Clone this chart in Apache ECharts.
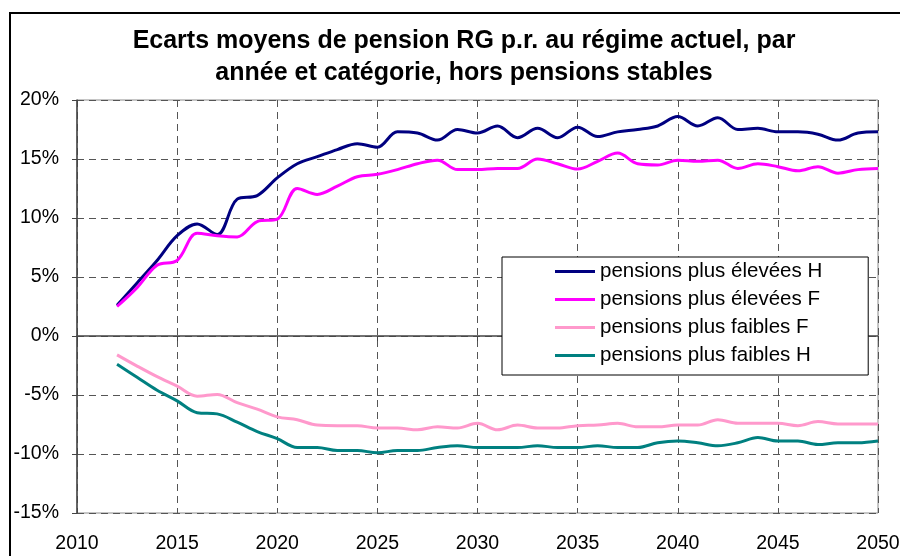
<!DOCTYPE html>
<html>
<head>
<meta charset="utf-8">
<title>Ecarts moyens de pension</title>
<script src="https://cdn.jsdelivr.net/npm/echarts@6/dist/echarts.min.js"></script>
<style>
  html, body { margin: 0; padding: 0; background: #fff; }
  #chart { width: 900px; height: 556px; }
</style>
</head>
<body>
<div id="chart"></div>
<script>
// années
const years = [2012, 2013, 2014, 2015, 2016, 2017, 2018, 2019, 2020, 2021,
  2022, 2023, 2024, 2025, 2026, 2027, 2028, 2029, 2030, 2031,
  2032, 2033, 2034, 2035, 2036, 2037, 2038, 2039, 2040, 2041,
  2042, 2043, 2044, 2045, 2046, 2047, 2048, 2049, 2050];

// écarts en %
const elevH = [2.6, 4.5, 6.4, 8.5, 9.5, 8.6, 11.6, 11.9, 13.4, 14.6,
  15.2, 15.8, 16.3, 16.0, 17.3, 17.2, 16.6, 17.5, 17.2, 17.8,
  16.8, 17.6, 16.8, 17.7, 16.9, 17.3, 17.5, 17.8, 18.6, 17.8,
  18.5, 17.5, 17.6, 17.3, 17.3, 17.1, 16.6, 17.2, 17.3];
const elevF = [2.5, 4.1, 6.0, 6.4, 8.7, 8.5, 8.4, 9.7, 9.9, 12.5,
  12.0, 12.7, 13.5, 13.7, 14.1, 14.6, 14.9, 14.1, 14.1, 14.2,
  14.2, 15.0, 14.6, 14.15, 14.8, 15.5, 14.6, 14.5, 14.9, 14.8,
  14.9, 14.2, 14.6, 14.35, 14.0, 14.35, 13.8, 14.1, 14.2];
const faibF = [-1.6, -2.55, -3.45, -4.25, -5.1, -4.95, -5.65, -6.2, -6.85, -7.1,
  -7.55, -7.6, -7.6, -7.8, -7.8, -7.95, -7.7, -7.8, -7.4, -7.95,
  -7.55, -7.8, -7.8, -7.6, -7.55, -7.4, -7.7, -7.7, -7.55, -7.55,
  -7.1, -7.4, -7.4, -7.4, -7.6, -7.25, -7.45, -7.45, -7.45];
const faibH = [-2.4, -3.5, -4.6, -5.5, -6.5, -6.6, -7.3, -8.1, -8.7, -9.45,
  -9.45, -9.7, -9.7, -9.9, -9.7, -9.7, -9.45, -9.3, -9.45, -9.45,
  -9.45, -9.3, -9.45, -9.45, -9.3, -9.45, -9.45, -9.05, -8.9, -9.05,
  -9.3, -9.05, -8.6, -8.9, -8.9, -9.2, -9.05, -9.05, -8.9];

const names = ['pensions plus élevées H', 'pensions plus élevées F',
  'pensions plus faibles F', 'pensions plus faibles H'];
const colors = ['#000080', '#ff00ff', '#ff99cc', '#008080'];

const font = 'Arial, "Liberation Sans", sans-serif';

function pairs(vals) {
  return years.map((y, i) => [y, vals[i]]);
}

const chart = echarts.init(document.getElementById('chart'));

const option = {
  animation: false,
  backgroundColor: '#fff',
  title: {
    text: 'Ecarts moyens de pension RG p.r. au régime actuel, par\nannée et catégorie, hors pensions stables',
    left: 459,
    top: 20,
    textAlign: 'center',
    textStyle: {
      fontFamily: font,
      fontSize: 25,
      fontWeight: 'bold',
      color: '#000',
      lineHeight: 32
    }
  },
  graphic: [{
    type: 'rect',
    shape: { x: 10, y: 13, width: 900, height: 600 },
    style: { fill: 'none', stroke: '#000', lineWidth: 2 },
    silent: true
  }],
  grid: {
    left: 77, top: 100, right: 22, bottom: 43,
    outerBoundsMode: 'none',
    containLabel: false,
    show: true,
    borderColor: '#8c8c8c',
    borderWidth: 1
  },
  legend: {
    orient: 'vertical',
    left: 502,
    top: 257,
    padding: [4, 46, 9, 53],
    itemWidth: 40,
    itemHeight: 3,
    itemGap: 7,
    icon: 'rect',
    backgroundColor: '#fff',
    borderColor: '#000',
    borderWidth: 1,
    data: names,
    textStyle: { fontFamily: font, fontSize: 20.5, color: '#000', lineHeight: 20 }
  },
  xAxis: {
    type: 'value',
    min: 2010,
    max: 2050,
    interval: 5,
    axisLine: { lineStyle: { color: '#444', width: 1.5 } },
    axisTick: { show: true, length: 5, lineStyle: { color: '#444' } },
    axisLabel: {
      fontFamily: font, fontSize: 19.5, color: '#000', margin: 21,
      formatter: v => String(v)
    },
    splitLine: { show: true, lineStyle: { color: '#555', type: [7, 5], width: 1 } }
  },
  yAxis: {
    type: 'value',
    min: -15,
    max: 20,
    interval: 5,
    axisLine: { show: true, lineStyle: { color: '#444', width: 1.5 } },
    axisTick: { show: true, length: 5, lineStyle: { color: '#444' } },
    axisLabel: { fontFamily: font, fontSize: 19.5, color: '#000', margin: 18, formatter: '{value}%' },
    splitLine: { show: true, lineStyle: { color: '#555', type: [7, 5], width: 1 } }
  },
  series: [elevH, elevF, faibF, faibH].map((vals, i) => ({
    name: names[i],
    type: 'line',
    data: pairs(vals),
    smooth: 0.35,
    showSymbol: false,
    color: colors[i],
    lineStyle: { width: 3, color: colors[i] }
  }))
};

chart.setOption(option);
</script>
</body>
</html>
